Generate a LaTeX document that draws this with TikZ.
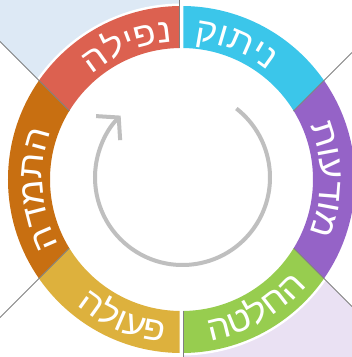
\documentclass[tikz,border=0pt]{standalone}
\usepackage{fontspec}
\newfontfamily\hebfont[Script=Hebrew,FakeStretch=1.08]{Liberation Sans}
\usetikzlibrary{decorations.text,arrows.meta}
\definecolor{cred}{HTML}{DC6150}
\definecolor{cblue}{HTML}{3BC6EA}
\definecolor{cpurple}{HTML}{9563C7}
\definecolor{cgreen}{HTML}{97CD4F}
\definecolor{cyellow}{HTML}{DDB13D}
\definecolor{corange}{HTML}{C86F11}
\definecolor{bgblue}{HTML}{DDE9F5}
\definecolor{bgpurple}{HTML}{EAE1F3}
\definecolor{linegray}{HTML}{808080}
\definecolor{arrowgray}{HTML}{BFBFBF}
\tikzset{
  seg/.style={fill=#1,even odd rule},
  sepline/.style={draw=linegray,line width=0.9pt},
  outlbl/.style={decorate,decoration={text along path,text align=center,
     text={|\hebfont\fontsize{34}{34}\selectfont\color{white}|#1}}},
}
\newcommand{\Rout}{173.5}
\newcommand{\Rin}{131.5}
\begin{document}
\begin{tikzpicture}[x=1pt,y=1pt]
\useasboundingbox (-181.5,-177.5) rectangle (170.5,179.5);
\coordinate (c) at (0,0);
% backgrounds
\fill[bgblue] (-181.5,179.5) -- (-1.8,179.5) -- (-1.8,-41.7) -- (-181.5,138) -- cycle;
\fill[bgpurple] (1.8,-177.5) -- (1.8,41.7) -- (170.5,-127) -- (170.5,-177.5) -- cycle;
\fill[white] (c) circle (176);
% ring segments
\begin{scope}\clip (-1.8,300) -- (-1.8,-41.7) -- (-300,256.5) -- (-300,300) -- cycle;
 \fill[seg=cred] (c) circle (\Rout) (c) circle (\Rin);\end{scope}
\begin{scope}\clip (-43.5,0) -- (-300,256.5) -- (-300,-256.5) -- cycle;
 \fill[seg=corange] (c) circle (\Rout) (c) circle (\Rin);\end{scope}
\begin{scope}\clip (-1.8,-300) -- (-1.8,41.7) -- (-300,-256.5) -- (-300,-300) -- cycle;
 \fill[seg=cyellow] (c) circle (\Rout) (c) circle (\Rin);\end{scope}
\begin{scope}\clip (1.8,300) -- (1.8,-41.7) -- (300,256.5) -- (300,300) -- cycle;
 \fill[seg=cblue] (c) circle (\Rout) (c) circle (\Rin);\end{scope}
\begin{scope}\clip (43.5,0) -- (300,256.5) -- (300,-256.5) -- cycle;
 \fill[seg=cpurple] (c) circle (\Rout) (c) circle (\Rin);\end{scope}
\begin{scope}\clip (1.8,-300) -- (1.8,41.7) -- (300,-256.5) -- (300,-300) -- cycle;
 \fill[seg=cgreen] (c) circle (\Rout) (c) circle (\Rin);\end{scope}
% separator lines
\coordinate (tlA) at (-181.5,138); \coordinate (tlB) at (-112,68.5);
\coordinate (blA) at (-181.5,-138); \coordinate (blB) at (-112.3,-68.8);
\coordinate (trA) at (170.5,127); \coordinate (trB) at (112,68.5);
\coordinate (brA) at (170.5,-127); \coordinate (brB) at (112.3,-68.8);
\coordinate (tA) at (-1.8,179.5); \coordinate (tB) at (-1.8,\Rin);
\coordinate (bA) at (1.5,-177.5); \coordinate (bB) at (1.5,-\Rin);
\draw[sepline] (tlA) -- (tlB);
\draw[sepline] (blA) -- (blB);
\draw[sepline] (trA) -- (trB);
\draw[sepline] (brA) -- (brB);
\draw[sepline] (tA) -- (tB);
\draw[sepline] (bA) -- (bB);
% cycle arrow
\coordinate (ac) at (1,2);
\draw[arrowgray,line width=4pt,-{Straight Barb[length=15pt,width=34pt]}]
  ([shift={(52:87.5)}]ac) arc[start angle=52,end angle=-225,radius=87.5];
% labels
\path[outlbl=הליפנ] (162:138) arc[start angle=162,end angle=62,radius=138];
\path[outlbl=קותינ] (118:139) arc[start angle=118,end angle=18,radius=139];
\path[outlbl=תועדומ] (50:139) arc[start angle=50,end angle=-50,radius=139];
\path[outlbl=הדמתה] (234:139) arc[start angle=234,end angle=134,radius=139];
\path[outlbl=הטלחה] (-110:164) arc[start angle=-110,end angle=-10,radius=164];
\path[outlbl=הלועפ] (197:164) arc[start angle=197,end angle=297,radius=164];
\end{tikzpicture}
\end{document}
